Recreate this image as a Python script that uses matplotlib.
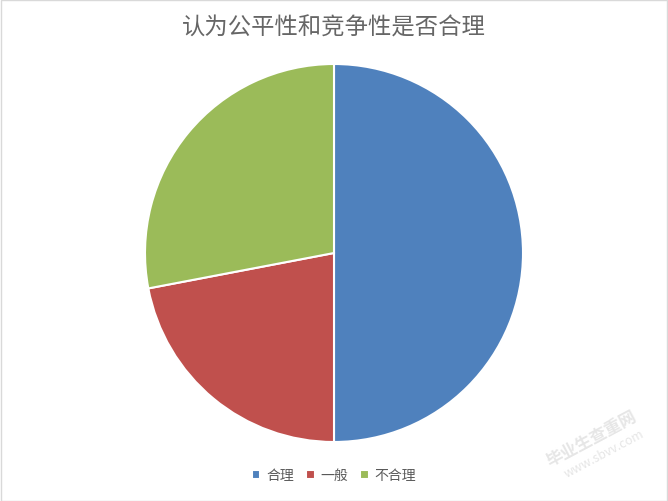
import matplotlib
matplotlib.use("Agg")
import matplotlib.pyplot as plt
from matplotlib.patches import Rectangle

plt.rcParams['font.family'] = ['Noto Sans CJK SC', 'DejaVu Sans']

title = "认为公平性和竞争性是否合理"
labels = ["合理", "一般", "不合理"]
values = [50, 22, 28]
colors = ["#4F81BD", "#C0504D", "#9BBB59"]

W, H = 668, 502
fig = plt.figure(figsize=(W / 100, H / 100), dpi=100)
fig.patch.set_facecolor("white")

cx, cy, r = 334, 254, 189
ax = fig.add_axes([(cx - r) / W, (H - cy - r) / H, 2 * r / W, 2 * r / H])
wedges, _ = ax.pie(values, colors=colors, startangle=90, counterclock=False,
                   wedgeprops=dict(edgecolor="white", linewidth=1.5))
ax.set_xlim(-1, 1)
ax.set_ylim(-1, 1)
ax.set_aspect("equal")
ax.axis("off")

fig.text(0.5, 1 - 28 / H, title, ha="center", va="center", fontsize=16.8,
         color="#666666", fontweight="light")

leg = fig.legend(wedges, labels, loc="center", bbox_to_anchor=(0.5, 1 - 476 / H),
                 ncol=3, frameon=False, fontsize=10, handlelength=0.6, handleheight=0.6,
                 handletextpad=0.4, columnspacing=0.9)
for t in leg.get_texts():
    t.set_color("#595959")

# watermark
fig.text(0.885, 0.125, "毕业生查重网", ha="center", va="center", fontsize=12,
         color="#e6e6e6", rotation=28, fontweight="bold")
fig.text(0.905, 0.095, "www.sbvv.com", ha="center", va="center", fontsize=9,
         color="#e6e6e6", rotation=28)

fig.add_artist(Rectangle((0.5 / W, 0.5 / H), 1 - 1.5 / W, 1 - 1.5 / H, transform=fig.transFigure,
                         fill=False, edgecolor="#d9d9d9", linewidth=1))

fig.savefig("out.png", dpi=100, facecolor="white")
